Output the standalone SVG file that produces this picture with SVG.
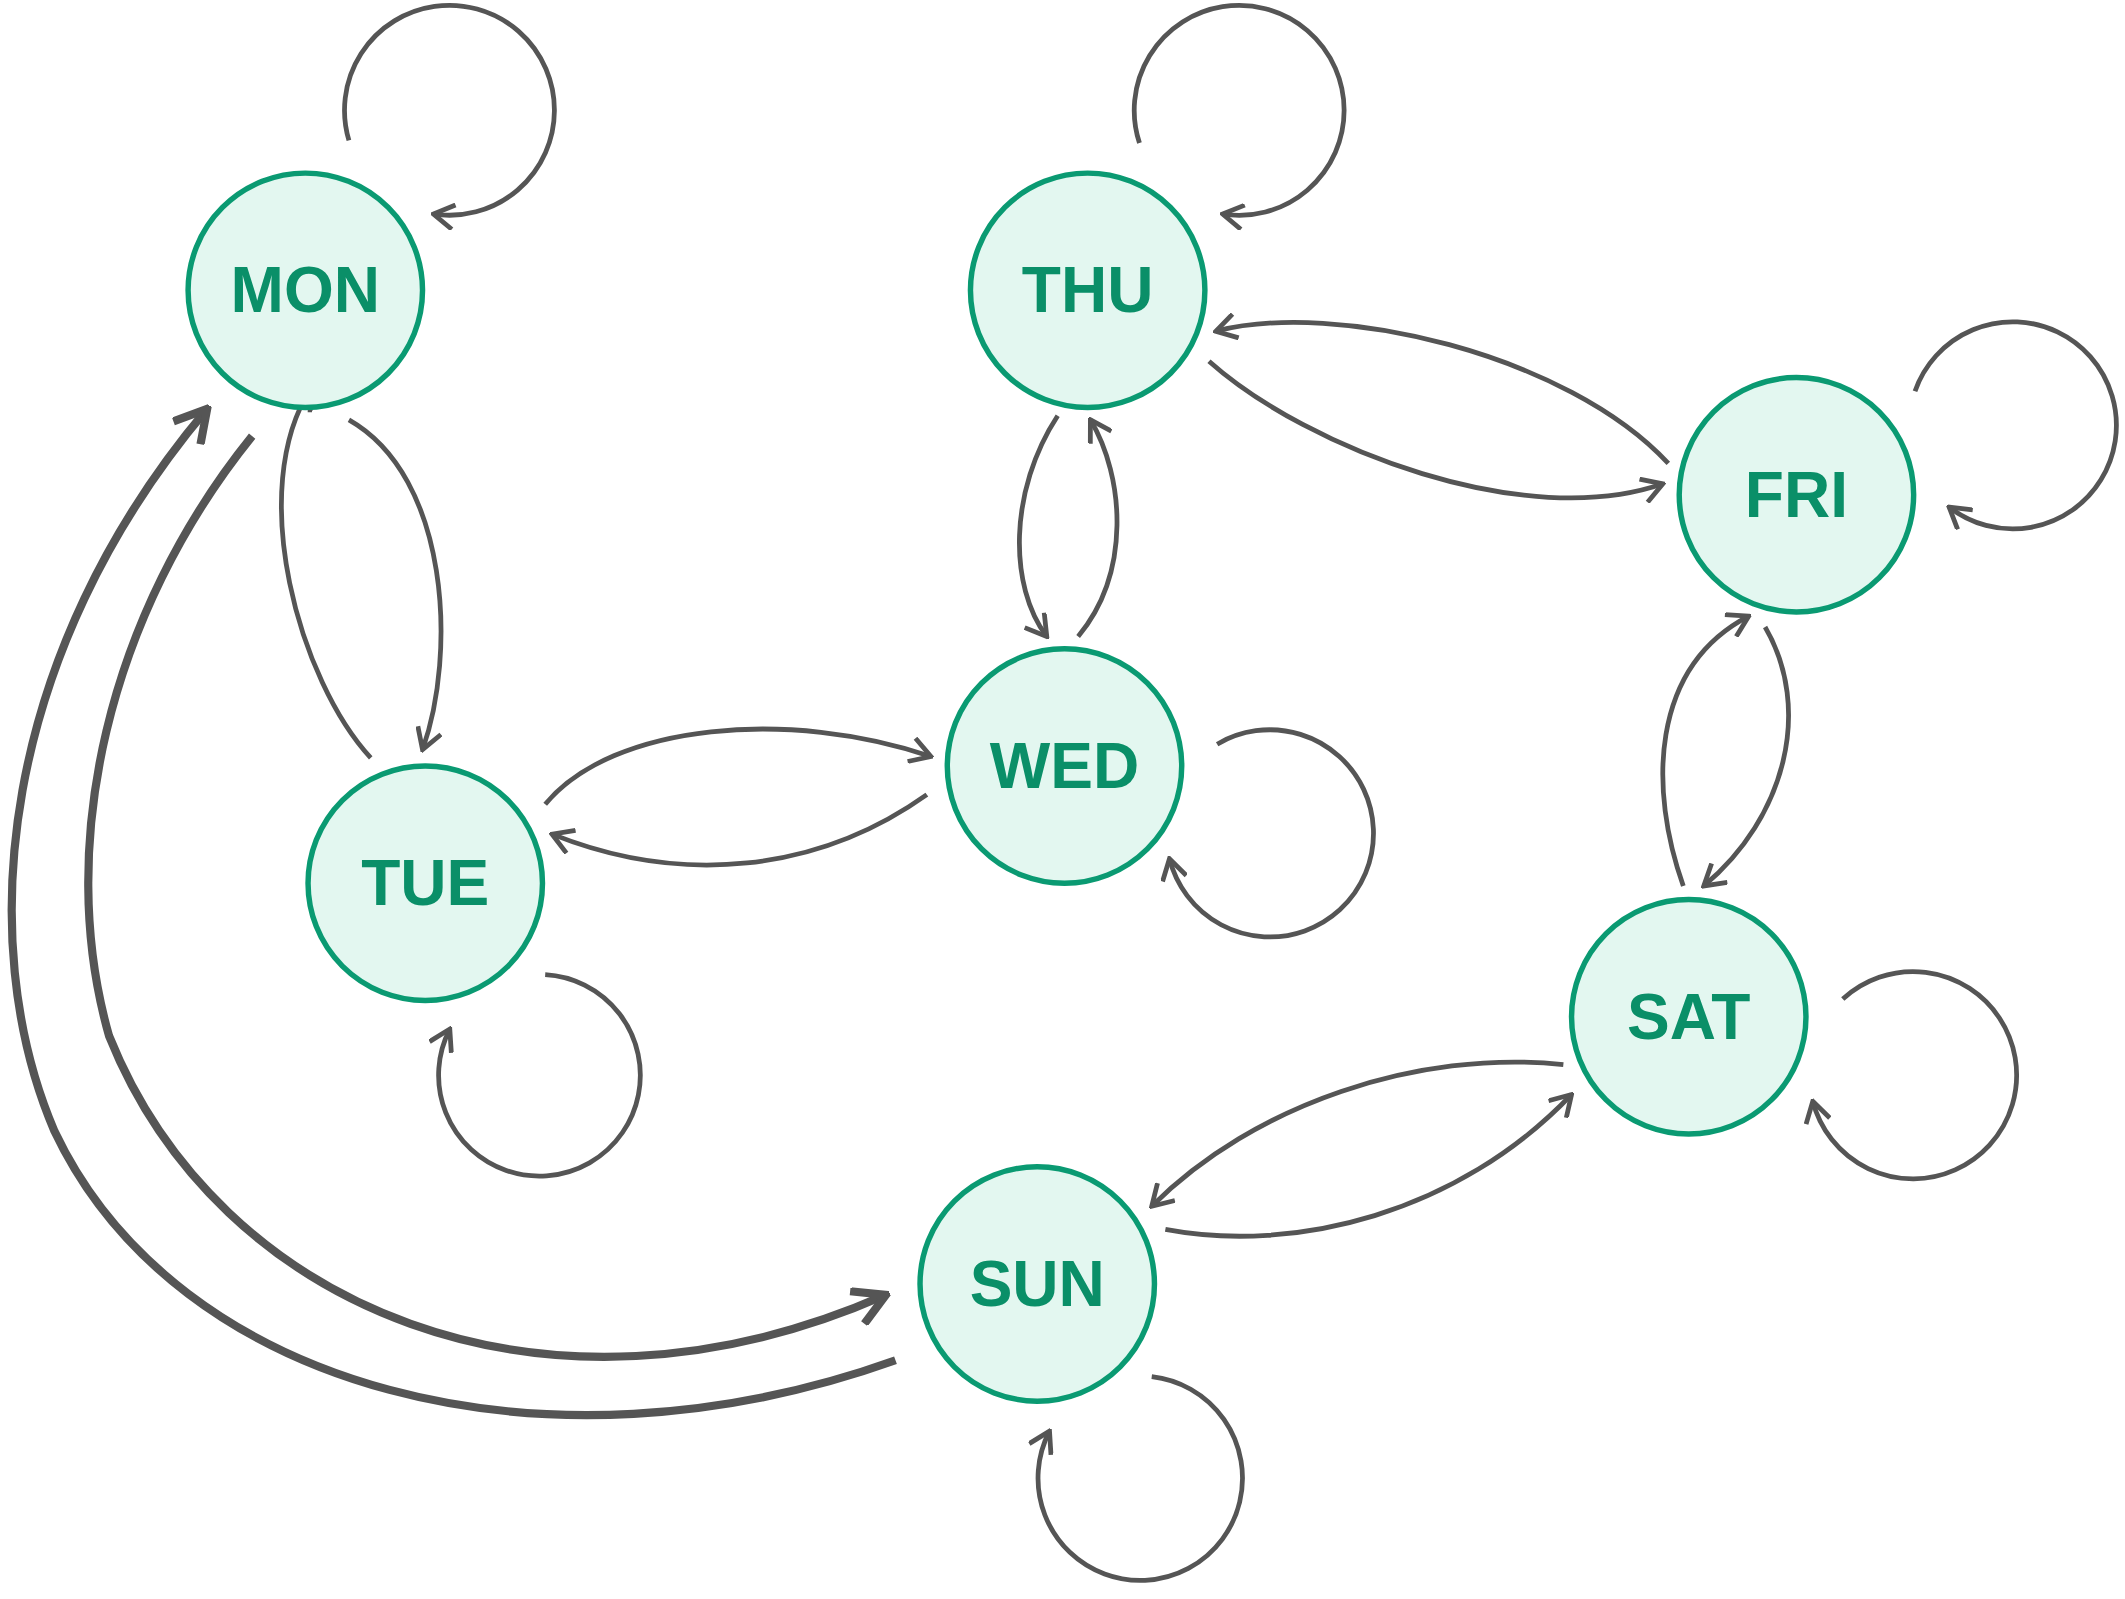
<svg xmlns="http://www.w3.org/2000/svg" width="2125" height="1599" viewBox="0 0 2125 1599">
<defs>
<style>
.n{fill:#e3f7f0;stroke:#0a9a72;stroke-width:4}
.t{font-family:"Liberation Sans",Arial,sans-serif;font-weight:bold;font-size:47px;fill:#0a8f68;text-anchor:middle;dominant-baseline:central}
.e{fill:none;stroke:#555;stroke-width:3.5;marker-end:url(#a)}
.k{fill:none;stroke:#555;stroke-width:6;marker-end:url(#b)}
</style>
<marker id="a" viewBox="0 0 20 20" refX="18" refY="10" markerWidth="20" markerHeight="20" markerUnits="userSpaceOnUse" orient="auto"><polyline points="3,1 18,10 3,19" fill="none" stroke="#555" stroke-width="3.5"/></marker>
<marker id="b" viewBox="0 0 30 30" refX="27" refY="15" markerWidth="30" markerHeight="30" markerUnits="userSpaceOnUse" orient="auto"><polyline points="4,2 27,15 4,28" fill="none" stroke="#555" stroke-width="6"/></marker>
</defs>
<rect width="2125" height="1599" fill="#fff"/>
<g transform="scale(1.363)">
<g id="connectors">
<path class="e" d="M256,103 A77,77 0 1 1 318,157"/>
<path class="e" d="M836,105 A77,77 0 1 1 897,157"/>
<path class="e" d="M1405,287 A76,76 0 1 1 1430,372"/>
<path class="e" d="M893,546 A76,76 0 1 1 858,630"/>
<path class="e" d="M400,715 A74,74 0 1 1 330,755"/>
<path class="e" d="M1352,733 A76,76 0 1 1 1330,808"/>
<path class="e" d="M845,1010 A75,75 0 1 1 770,1050"/>
<path class="e" d="M256,308 C330,350 335,480 310,550"/>
<path class="e" d="M272,556 C220,500 180,360 228,285"/>
<path class="e" d="M400,590 C450,530 580,520 683,555"/>
<path class="e" d="M680,583 C600,640 500,650 405,612"/>
<path class="e" d="M776,305 C740,360 740,430 768,467"/>
<path class="e" d="M791,467 C830,420 825,350 800,308"/>
<path class="e" d="M887,265 C960,330 1120,390 1220,355"/>
<path class="e" d="M1224,340 C1150,260 980,220 892,243"/>
<path class="e" d="M1295,460 C1330,520 1310,600 1250,650"/>
<path class="e" d="M1235,650 C1210,580 1210,490 1283,452"/>
<path class="e" d="M1147,781 C1040,770 920,810 845,885"/>
<path class="e" d="M855,902 C950,920 1070,890 1153,803"/>
<path class="k" d="M185,320 C80,450 40,620 80,760 C160,960 400,1060 650,950"/>
<path class="k" d="M657,998 C400,1090 130,1020 40,830 C-20,690 0,480 152,300"/>
</g>
<g id="MON"><circle class="n" cx="224" cy="213" r="86"/><text class="t" x="224" y="213">MON</text></g>
<g id="THU"><circle class="n" cx="798" cy="213" r="86"/><text class="t" x="798" y="213">THU</text></g>
<g id="FRI"><circle class="n" cx="1318" cy="363" r="86"/><text class="t" x="1318" y="363">FRI</text></g>
<g id="WED"><circle class="n" cx="781" cy="562" r="86"/><text class="t" x="781" y="562">WED</text></g>
<g id="TUE"><circle class="n" cx="312" cy="648" r="86"/><text class="t" x="312" y="648">TUE</text></g>
<g id="SAT"><circle class="n" cx="1239" cy="746" r="86"/><text class="t" x="1239" y="746">SAT</text></g>
<g id="SUN"><circle class="n" cx="761" cy="942" r="86"/><text class="t" x="761" y="942">SUN</text></g>
</g>
</svg>
